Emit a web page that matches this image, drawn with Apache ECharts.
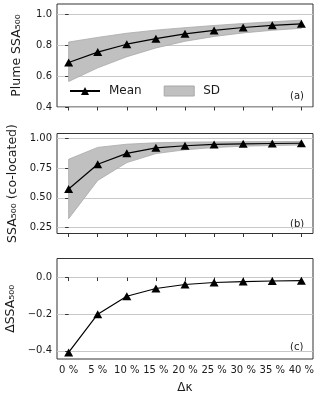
<!DOCTYPE html>
<html>
<head>
<meta charset="utf-8">
<script src="https://cdn.jsdelivr.net/npm/echarts@6/dist/echarts.min.js"></script>
<style>
html, body { margin: 0; padding: 0; background: #fff; }
#chart { width: 320px; height: 399px; }
</style>
</head>
<body>
<div id="chart"></div>
<script>
// data
const categories = ['0 %', '5 %', '10 %', '15 %', '20 %', '25 %', '30 %', '35 %', '40 %'];
const plumeMean  = [0.688, 0.755, 0.806, 0.842, 0.873, 0.895, 0.914, 0.928, 0.938];
const plumeUpper = [0.820, 0.850, 0.877, 0.897, 0.913, 0.927, 0.940, 0.951, 0.962];
const plumeLower = [0.565, 0.653, 0.725, 0.782, 0.825, 0.856, 0.879, 0.896, 0.909];
const colocMean  = [0.575, 0.783, 0.875, 0.921, 0.939, 0.950, 0.955, 0.958, 0.960];
const colocUpper = [0.825, 0.925, 0.952, 0.964, 0.969, 0.971, 0.973, 0.974, 0.975];
const colocLower = [0.325, 0.647, 0.797, 0.873, 0.905, 0.924, 0.935, 0.941, 0.945];
const deltaMean  = [-0.409, -0.200, -0.102, -0.060, -0.038, -0.027, -0.022, -0.019, -0.017];
const plumeTicks = [0.4, 0.6, 0.8, 1.0];
const colocTicks = [0.25, 0.5, 0.75, 1.0];
const deltaTicks = [-0.4, -0.2, 0.0];

const font = 'DejaVu Sans';
const idx = categories.map((c, i) => i);
const pairs = arr => arr.map((v, i) => [i, v]);
const fmt = (v, d) => v.toFixed(d).replace('-', '\u2212');

const grids = [
    { left: 57, right: 7, top: 4, height: 103 },
    { left: 57, right: 7, top: 133.5, height: 100 },
    { left: 57, right: 7, top: 258.5, height: 100.5 }
].map(g => Object.assign(g, { show: true, borderColor: '#333', borderWidth: 1, containLabel: false, outerBoundsMode: 'none' }));

const xAxis = [0, 1, 2].map(i => ({
    type: 'value', gridIndex: i, min: -0.4, max: 8.4,
    axisLine: { show: false },
    splitLine: { show: false },
    axisTick: { show: true, length: 3.5, customValues: idx, lineStyle: { color: '#333' } },
    axisLabel: {
        show: i === 2, customValues: idx, margin: 6,
        fontFamily: font, fontSize: 10, color: '#1a1a1a',
        formatter: v => categories[Math.round(v)]
    },
    name: i === 2 ? '\u0394\u03ba' : '',
    nameLocation: 'middle', nameGap: 23,
    nameTextStyle: { fontFamily: font, fontSize: 12, color: '#1a1a1a' }
}));

const yDefs = [
    { min: 0.4, max: 1.066, ticks: plumeTicks, d: 1, name: 'Plume SSA\u2085\u2080\u2080' },
    { min: 0.2, max: 1.042, ticks: colocTicks, d: 2, name: 'SSA\u2085\u2080\u2080 (co-located)' },
    { min: -0.445, max: 0.104, ticks: deltaTicks, d: 1, name: '\u0394SSA\u2085\u2080\u2080' }
];
const yAxis = yDefs.map((y, i) => ({
    type: 'value', gridIndex: i, min: y.min, max: y.max,
    axisLine: { show: false },
    axisTick: { show: true, length: 3.5, customValues: y.ticks, lineStyle: { color: '#333' } },
    axisLabel: {
        customValues: y.ticks, margin: 5,
        fontFamily: font, fontSize: 10, color: '#1a1a1a',
        formatter: v => fmt(v, y.d)
    },
    splitLine: { show: true, lineStyle: { color: '#c8c8c8', width: 1 } },
    name: y.name, nameLocation: 'middle', nameGap: 34, nameRotate: 90,
    nameTextStyle: { fontFamily: font, fontSize: 12.5, color: '#1a1a1a' }
}));

// SD band: one polygon through the lower then (reversed) upper points
const band = (i, up, lo) => ({
    name: 'SD', type: 'custom', xAxisIndex: i, yAxisIndex: i,
    data: lo.map((v, k) => [k, v, up[k]]),
    itemStyle: { color: '#c0c0c0' },
    z: 1, silent: true,
    renderItem: (params, api) => {
        if (params.dataIndex !== 0) return null;
        const loPts = lo.map((v, k) => api.coord([k, v]));
        const upPts = up.map((v, k) => api.coord([k, v]));
        return {
            type: 'polygon',
            shape: { points: loPts.concat(upPts.slice().reverse()) },
            style: { fill: '#c0c0c0', stroke: '#a8a8a8', lineWidth: 0.8 }
        };
    }
});
const meanLine = (i, arr) => ({
    name: 'Mean', type: 'line', xAxisIndex: i, yAxisIndex: i,
    data: pairs(arr), symbol: 'triangle', symbolSize: [9, 8], showAllSymbol: true,
    lineStyle: { color: '#000', width: 1.2 }, itemStyle: { color: '#000' }, z: 5
});

const series = [
    band(0, plumeUpper, plumeLower), meanLine(0, plumeMean),
    band(1, colocUpper, colocLower), meanLine(1, colocMean),
    meanLine(2, deltaMean)
];

const panelLabel = (txt, top) => ({
    type: 'text', left: 290, top: top,
    style: { text: txt, fontFamily: font, fontSize: 10, fill: '#1a1a1a' }
});

const chart = echarts.init(document.getElementById('chart'), null, { renderer: 'canvas' });
chart.setOption({
    animation: false,
    backgroundColor: '#fff',
    grid: grids,
    xAxis: xAxis,
    yAxis: yAxis,
    legend: {
        left: 64, top: 80, itemWidth: 30, itemHeight: 10, itemGap: 22,
        textStyle: { fontFamily: font, fontSize: 12, color: '#1a1a1a', padding: [0, 0, 0, 4] },
        data: [
            { name: 'Mean' },
            { name: 'SD', icon: 'rect', itemStyle: { color: '#c0c0c0', borderColor: '#a8a8a8', borderWidth: 1 } }
        ]
    },
    graphic: [panelLabel('(a)', 91), panelLabel('(b)', 219), panelLabel('(c)', 342)],
    series: series
});
</script>
</body>
</html>
